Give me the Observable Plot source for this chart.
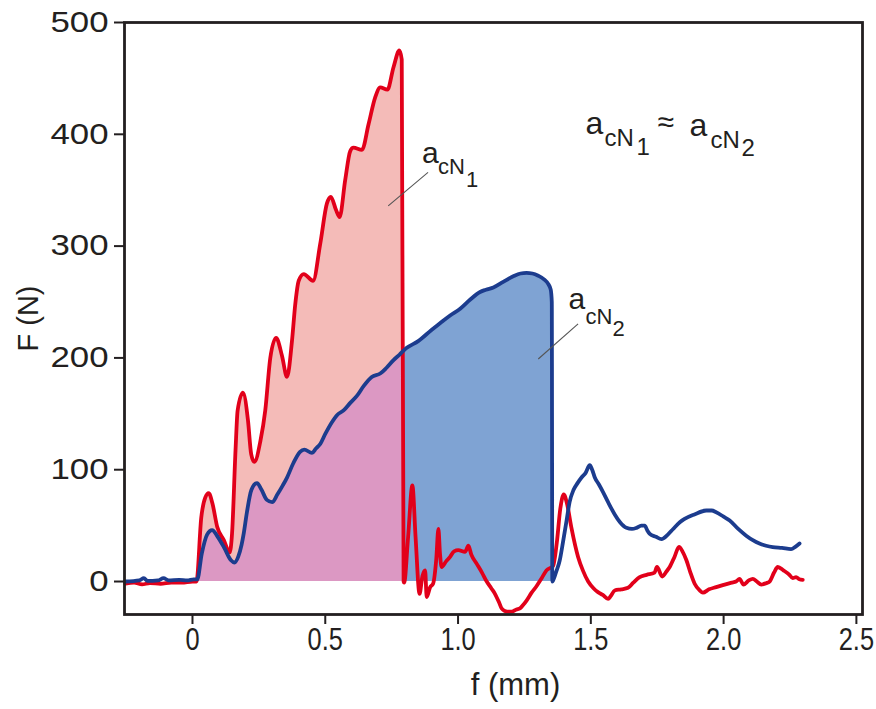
<!DOCTYPE html>
<html><head><meta charset="utf-8">
<script src="https://cdn.jsdelivr.net/npm/d3@7"></script>
<script src="https://cdn.jsdelivr.net/npm/@observablehq/plot@0.6"></script>
<style>body{margin:0;background:#fff}</style>
</head><body><div id="chart"></div>
<script>
// Red curve (specimen N1): deflection f (mm), force F (N)
const redF = [-0.253,-0.22,-0.19,-0.16,-0.12,-0.08,-0.04,0.0,0.015,0.033,0.048,0.061,0.075,0.093,0.118,0.14,0.149,0.162,0.17,0.19,0.209,0.221,0.233,0.256,0.274,0.293,0.315,0.337,0.356,0.375,0.387,0.40,0.419,0.454,0.481,0.506,0.521,0.541,0.554,0.575,0.594,0.606,0.638,0.663,0.688,0.707,0.734,0.757,0.779,0.788,0.795,0.797,0.812,0.828,0.84,0.855,0.866,0.876,0.882,0.895,0.906,0.918,0.926,0.932,0.938,0.955,0.97,0.985,1.001,1.026,1.039,1.05,1.07,1.09,1.108,1.125,1.139,1.155,1.164,1.185,1.202,1.22,1.233,1.245,1.258,1.277,1.296,1.315,1.333,1.358,1.372,1.385,1.398,1.41,1.427,1.452,1.47,1.49,1.51,1.527,1.545,1.565,1.575,1.59,1.615,1.64,1.66,1.684,1.71,1.74,1.749,1.769,1.785,1.797,1.815,1.832,1.845,1.86,1.875,1.891,1.91,1.922,1.945,1.972,2.0,2.03,2.047,2.06,2.075,2.095,2.11,2.125,2.142,2.16,2.173,2.19,2.204,2.225,2.248,2.26,2.273,2.285,2.298];
const redN = [-2,-1,-2.5,-1.5,-2,-1,-1,0,0,57,75,79,70,49,37,26,43,117,153,169,144,114,107,126,153,200,218,202,183,216,248,269,275,269,302,338,344,332,326,359,385,388,386,409,433,442,440,460,475,467,0,-1,40,86,40,-11,5,10,-14,-5,-2,20,47,25,13,18,22,27,28,26.5,32,24,16,8,0,-6,-11,-19,-24,-27,-27,-25,-24,-21,-17,-10,-4,3,10,14,35,65,78,70,48,22,10,0,-6,-9.5,-12,-15.5,-13,-8,-7,-5.6,-1,4,6,8,13,4.5,9,13,22,31,27,19,8,-2,-8,-10,-7,-5,-3,-1,0,2.4,-2.7,1,2.4,0,-2.7,-1.5,0,8,13,10,6,3,4,2,1.5];

// Blue curve (specimen N2)
const blueF = [-0.253,-0.2,-0.183,-0.17,-0.13,-0.109,-0.09,-0.05,-0.02,0.005,0.018,0.035,0.055,0.074,0.095,0.12,0.145,0.158,0.172,0.185,0.193,0.205,0.222,0.243,0.26,0.28,0.3,0.32,0.34,0.356,0.38,0.405,0.421,0.45,0.465,0.481,0.5,0.525,0.545,0.569,0.595,0.619,0.645,0.675,0.707,0.73,0.757,0.78,0.797,0.807,0.85,0.9,0.932,0.97,1.008,1.045,1.083,1.105,1.133,1.17,1.208,1.235,1.258,1.28,1.302,1.325,1.34,1.349,1.353,1.355,1.358,1.37,1.383,1.395,1.409,1.42,1.435,1.45,1.465,1.48,1.496,1.505,1.515,1.53,1.546,1.565,1.59,1.61,1.634,1.655,1.672,1.69,1.703,1.712,1.722,1.745,1.766,1.79,1.81,1.835,1.853,1.89,1.935,1.955,1.972,2.0,2.023,2.055,2.085,2.11,2.135,2.16,2.185,2.22,2.254,2.27,2.286];
const blueN = [0,1,3,0.5,1,3,1,1.5,1,2,2,25,42,46,40,30,19,17,22,33,43,62,82,88,82,73,71,78,86,93,106,116,118,115,119,123,132,142.5,149,153,160,166,175,183,186,191,198,203,207,209,215,225,231,238,244,252,259,261,263,268,273,275.5,276,275.5,273.5,270,266,261,250,0,1,9,19,35,55,71,82,88,93,97,104,100,93,87,80,71,60,53,48,47,48,50,50,46,42.6,40,38,42,47,53,56,60,63.5,63.5,62,58,54.6,47,41,37,34,32,30.7,30,29,31,34];

// key deflections: onset of loading, fracture of N1, fracture of N2
const onset = 0.015, fracture1 = 0.795, split1 = 0.797, fracture2 = 1.355;

const xTicks = [0, 0.5, 1, 1.5, 2, 2.5];
const xTickLabels = ["0", "0.5", "1.0", "1.5", "2.0", "2.5"];
const yTicks = [0, 100, 200, 300, 400, 500];

// annotation anchors (f, F)
const labelF = [0.864, 1.416, 1.48];
const labelN = [374, 244, 400];
const leaderF1 = [0.737, 1.302], leaderN1 = [336, 199];
const leaderF2 = [0.887, 1.452], leaderN2 = [366, 230.5];

const red = redF.map((f, i) => ({f, F: redN[i]}));
const blue = blueF.map((f, i) => ({f, F: blueN[i]}));
const leaders = leaderF1.map((f, i) => ({x1: f, y1: leaderN1[i], x2: leaderF2[i], y2: leaderN2[i]}));

const ink = "#231f20";
const font = "'Liberation Sans', Arial, sans-serif";

function txt(i, s, size, dx, dy) {
  return Plot.text([{f: labelF[i], F: labelN[i]}], {
    x: "f", y: "F", text: () => s, textAnchor: "start", lineAnchor: "bottom",
    fontSize: size, dx, dy, fill: ink, fontFamily: font
  });
}

const chart = Plot.plot({
  width: 876, height: 709,
  marginLeft: 124, marginRight: 14, marginTop: 22, marginBottom: 95,
  style: {fontFamily: font, fontSize: "29px", color: ink, background: "#fff"},
  x: {domain: [-0.256, 2.523]},
  y: {domain: [-29.5, 500]},
  marks: [
    Plot.areaY(red, {filter: d => d.f >= onset && d.f <= fracture1, x: "f", y: "F", fill: "#f4bbb8", curve: "monotone-x"}),
    Plot.areaY(blue, {filter: d => d.f >= onset && d.f <= split1, x: "f", y: "F", fill: "#dc98c3", curve: "monotone-x"}),
    Plot.areaY(blue, {filter: d => d.f >= split1 && d.f <= fracture2, x: "f", y: "F", fill: "#7fa3d3", curve: "monotone-x"}),
    Plot.lineY(red, {x: "f", y: "F", stroke: "#e2001a", strokeWidth: 3.8, curve: "monotone-x"}),
    Plot.lineY(blue, {x: "f", y: "F", stroke: "#1c3c8e", strokeWidth: 3.8, curve: "monotone-x"}),
    Plot.link(leaders, {x1: "x1", y1: "y1", x2: "x2", y2: "y2", stroke: "#555", strokeWidth: 1.1}),
    // a_cN1 label
    txt(0, "a", 30, 0, 0), txt(0, "cN", 22, 16, 11), txt(0, "1", 22, 44, 24),
    // a_cN2 label
    txt(1, "a", 30, 0, 0), txt(1, "cN", 22, 17, 15), txt(1, "2", 22, 44, 27),
    // a_cN1 ≈ a_cN2
    txt(2, "a", 32, 0, 0), txt(2, "cN", 24, 19, 12), txt(2, "1", 24, 51, 21),
    txt(2, "≈", 30, 72, -2),
    txt(2, "a", 32, 104, 2), txt(2, "cN", 24, 125, 14), txt(2, "2", 24, 156, 22),
    Plot.frame({stroke: ink, strokeWidth: 2.8}),
    Plot.axisY({ticks: yTicks, tickSize: 10, tickPadding: 6, strokeWidth: 2, stroke: ink, fill: ink,
      label: "F (N)", labelAnchor: "center", labelArrow: "none", labelOffset: 107}),
    Plot.axisX({ticks: xTicks, tickFormat: d => xTickLabels[xTicks.indexOf(d)], tickSize: 10, tickPadding: 3,
      fontSize: 31, strokeWidth: 2, stroke: ink, fill: ink, label: "f (mm)", labelAnchor: "center", labelArrow: "none", labelOffset: 80})
  ]
});
// glyph proportions: y tick labels are wide, x tick labels condensed
d3.select(chart).selectAll('g[aria-label="y-axis tick label"] text').each(function() {
  const t = this.getAttribute("transform") || "";
  this.setAttribute("transform", t + " scale(1.2,1)");
});
d3.select(chart).selectAll('g[aria-label="x-axis tick label"] text').each(function() {
  const t = this.getAttribute("transform") || "";
  this.setAttribute("transform", t + " scale(0.82,1)");
});
// x-axis title sits slightly right of the frame centre in the original
d3.select(chart).selectAll('g[aria-label="x-axis label"] text').each(function() {
  const t = this.getAttribute("transform") || "";
  this.setAttribute("transform", "translate(22,0) " + t);
});
document.getElementById("chart").append(chart);
</script>
</body></html>
